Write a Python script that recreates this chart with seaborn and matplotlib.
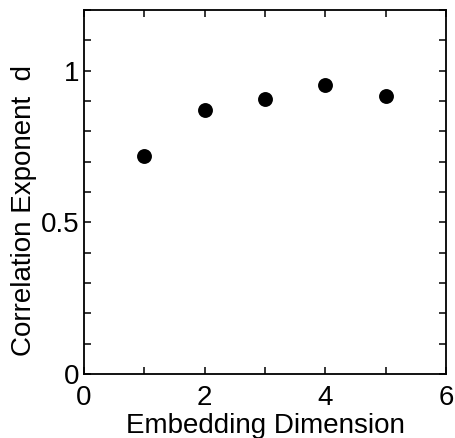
import matplotlib
matplotlib.use("Agg")
import matplotlib.pyplot as plt
import seaborn as sns
import pandas as pd
from matplotlib.ticker import MultipleLocator, FixedLocator

sns.set_theme(style="ticks")
plt.rcParams['font.family'] = ['Liberation Sans', 'DejaVu Sans']

dims = [1, 2, 3, 4, 5]
exponent = [0.718, 0.872, 0.907, 0.954, 0.918]
df = pd.DataFrame({"dim": dims, "d": exponent})

fig = plt.figure(figsize=(4.55, 4.38), dpi=100)
ax = fig.add_axes([0.1846, 0.146, 0.7956, 0.831])
sns.scatterplot(data=df, x="dim", y="d", ax=ax, color="black", s=115,
                edgecolor="black", linewidth=0, legend=False)

ax.set_xlim(0, 6)
ax.set_ylim(0, 1.2)
ax.xaxis.set_major_locator(FixedLocator([0, 2, 4, 6]))
ax.xaxis.set_minor_locator(MultipleLocator(1))
ax.yaxis.set_major_locator(FixedLocator([0, 0.5, 1]))
ax.yaxis.set_minor_locator(MultipleLocator(0.1))
ax.set_xticklabels(["0", "2", "4", "6"])
ax.set_yticklabels(["0", "0.5", "1"])
for s in ax.spines.values():
    s.set_linewidth(1.3)
    s.set_color("black")
ax.tick_params(which="both", direction="in", top=True, right=True,
               length=5, width=1.1, colors="black", labelsize=20)
ax.tick_params(axis="x", pad=8)
ax.tick_params(axis="y", pad=3)
ax.set_xlabel("Embedding Dimension", fontsize=20, labelpad=1, color="black")
ax.set_ylabel("Correlation Exponent  d", fontsize=20, labelpad=3, color="black")
ax.yaxis.label.set_y(0.45)

fig.savefig("out.png", dpi=100)
